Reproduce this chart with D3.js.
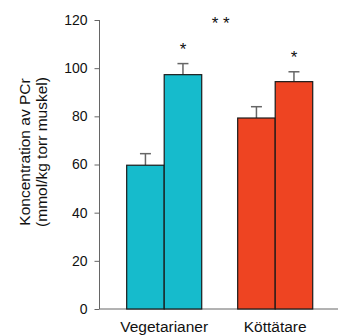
<!DOCTYPE html>
<html>
<head>
<meta charset="utf-8">
<script src="https://cdn.jsdelivr.net/npm/d3@7"></script>
<style>
  html, body { margin: 0; padding: 0; background: #fff; }
  svg { display: block; font-family: "Liberation Sans", Arial, sans-serif; }
</style>
</head>
<body>
<svg id="chart" width="338" height="336"></svg>
<script>
// PCr concentration per diet group, before and after supplementation
const groups = ["Vegetarianer", "Köttätare"];
const phases = ["före", "efter"];
const meanVeg = [59.7, 97.3];
const meanMeat = [79.3, 94.4];
const errVeg = [4.8, 4.6];
const errMeat = [4.7, 4.1];
const starsVeg = ["", "*"];
const starsMeat = ["", "*"];
const groupStar = "* *";
const yTicks = [0, 20, 40, 60, 80, 100, 120];
const groupColors = ["#16BBCC", "#EE4422"];

const rows = [
  { group: groups[0], means: meanVeg, errs: errVeg, stars: starsVeg, color: groupColors[0] },
  { group: groups[1], means: meanMeat, errs: errMeat, stars: starsMeat, color: groupColors[1] }
];

const svg = d3.select("#chart");
const axisX = 99.5, baseY = 309;

const y = d3.scaleLinear().domain([0, 120]).range([baseY, 20]);
const x0 = d3.scaleBand().domain(groups).range([108.7, 330.7]).paddingInner(0.324).paddingOuter(0.162);
const x1 = d3.scaleBand().domain(phases).range([0, x0.bandwidth()]).padding(0);

// y axis
const yAxis = svg.append("g")
  .attr("transform", `translate(${axisX},0)`)
  .call(d3.axisLeft(y).tickValues(yTicks).tickSize(5).tickPadding(7));
yAxis.select(".domain").attr("stroke", "#666").attr("d", `M0,${y(120)}V${baseY}`);
yAxis.selectAll(".tick line").attr("stroke", "#666");
yAxis.selectAll(".tick text").attr("fill", "#111").style("font-size", "14px")
  .style("font-family", "'Liberation Sans', Arial, sans-serif");

// baseline
svg.append("line")
  .attr("x1", axisX).attr("x2", 338)
  .attr("y1", baseY).attr("y2", baseY)
  .attr("stroke", "#666").attr("stroke-width", 1);

// y axis title
const title = svg.append("text")
  .attr("transform", "translate(25,152) rotate(-90)")
  .attr("text-anchor", "middle")
  .attr("fill", "#111")
  .style("font-size", "15.5px");
title.append("tspan").attr("x", 0).attr("dy", "0.35em").text("Koncentration av PCr");
title.append("tspan").attr("x", 0).attr("dy", "1.1em").text("(mmol/kg torr muskel)");

// bars with error bars and significance marks
const g = svg.selectAll(".grp").data(rows).join("g")
  .attr("transform", d => `translate(${x0(d.group)},0)`);

const items = g.selectAll(".bar").data(d => phases.map((p, i) => ({
  phase: p, mean: d.means[i], err: d.errs[i], star: d.stars[i], color: d.color
}))).join("g");

// error bar stems and caps (drawn first so the bar stroke sits on top)
items.append("line")
  .attr("x1", d => x1(d.phase) + x1.bandwidth() / 2)
  .attr("x2", d => x1(d.phase) + x1.bandwidth() / 2)
  .attr("y1", d => y(d.mean)).attr("y2", d => y(d.mean + d.err))
  .attr("stroke", "#666").attr("stroke-width", 1.5);
items.append("line")
  .attr("x1", d => x1(d.phase) + x1.bandwidth() / 2 - 5.5)
  .attr("x2", d => x1(d.phase) + x1.bandwidth() / 2 + 5.5)
  .attr("y1", d => y(d.mean + d.err)).attr("y2", d => y(d.mean + d.err))
  .attr("stroke", "#666").attr("stroke-width", 1.5);

items.append("rect")
  .attr("x", d => x1(d.phase))
  .attr("width", x1.bandwidth())
  .attr("y", d => y(d.mean))
  .attr("height", d => baseY - y(d.mean))
  .attr("fill", d => d.color)
  .attr("stroke", "#1a1a1a").attr("stroke-width", 1.2);

items.filter(d => d.star).append("text")
  .attr("x", d => x1(d.phase) + x1.bandwidth() / 2)
  .attr("y", d => y(d.mean + d.err) - 9)
  .attr("text-anchor", "middle")
  .attr("fill", "#111")
  .style("font-size", "17px")
  .text(d => d.star);

// between-group significance
svg.append("text")
  .attr("x", (x0(groups[0]) + x0.bandwidth() + x0(groups[1])) / 2 + 1)
  .attr("y", 29)
  .attr("text-anchor", "middle")
  .attr("fill", "#111")
  .style("font-size", "17px")
  .text(groupStar);

// category labels
svg.selectAll(".cat").data(groups).join("text")
  .attr("x", d => x0(d) + x0.bandwidth() / 2)
  .attr("y", 332)
  .attr("text-anchor", "middle")
  .attr("fill", "#111")
  .style("font-size", "15.5px")
  .text(d => d);
</script>
</body>
</html>
